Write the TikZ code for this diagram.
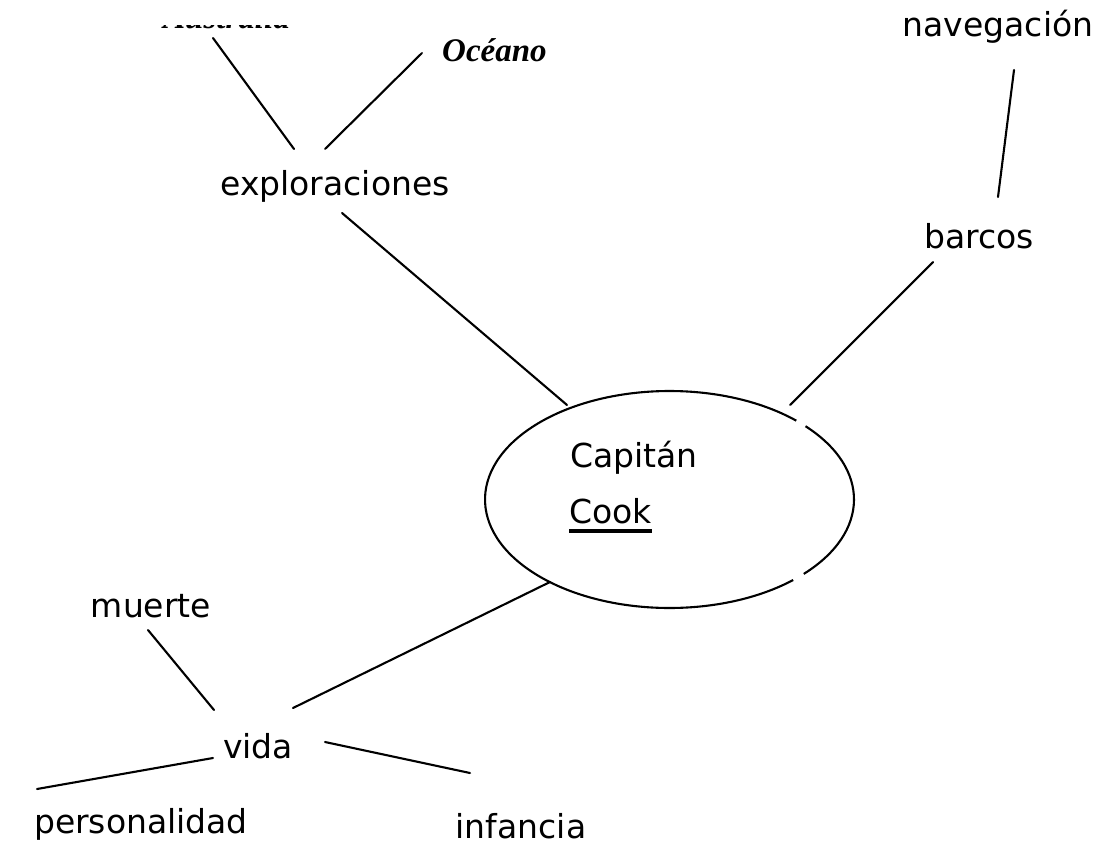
\documentclass[tikz,border=0pt]{standalone}
\usepackage{fontspec}
\setmainfont{DejaVu Sans}
\newfontfamily\tnrfont{Liberation Serif}
\usetikzlibrary{shapes.geometric}
\begin{document}
\begin{tikzpicture}[x=1pt,y=-1pt,
  lbl/.style={inner sep=0pt, anchor=base, font=\fontsize{33}{40}\selectfont},
  serlbl/.style={inner sep=0pt, anchor=base west, font=\fontsize{33}{40}\tnrfont\bfseries\itshape},
  conn/.style={line width=2.1pt, line cap=round},
  oval/.style={line width=2.1pt}]
\useasboundingbox (0,0) rectangle (1099,845);
\fill[white] (0,0) rectangle (1099,845);

% labels
\node[serlbl] (aus) at (163,29) {Australia};
\fill[white] (120,0) rectangle (320,25.5);
\node[serlbl] (oce) at (442,62) {Océano};
\node[lbl] (expl) at (335,195) {exploraciones};
\node[lbl] (nav) at (998,37) {navegación};
\node[lbl] (bar) at (979,248) {barcos};
\node[lbl] (mue) at (151,617) {muerte};
\node[lbl] (vida) at (258,758) {vida};
\node[lbl] (pers) at (141,833) {personalidad};
\node[lbl] (inf) at (521,838) {infancia};

% central oval
\node[ellipse, minimum width=369pt, minimum height=217pt, inner sep=0pt] (cc) at (669.5,499.5) {};
\draw[oval] (cc.center) ++(-43.3:184.5pt and 108.5pt)
  arc[start angle=-43.3, end angle=42.5, x radius=184.5pt, y radius=108.5pt];
\draw[oval] (cc.center) ++(46.6:184.5pt and 108.5pt)
  arc[start angle=46.6, end angle=312.1, x radius=184.5pt, y radius=108.5pt];
\node[inner sep=0pt, anchor=base west, font=\fontsize{33}{40}\selectfont] (cap) at (570,467) {Capitán};
\node[inner sep=0pt, anchor=base west, font=\fontsize{33}{40}\selectfont] (cook) at (569,523) {Cook};
\draw[line width=3.3pt] ([yshift=-8pt]cook.base west) -- ([yshift=-8pt]cook.base east);

% connector end points
\coordinate (a1) at (213,38);  \coordinate (a2) at (294,149);
\coordinate (o1) at (422,53);  \coordinate (o2) at (325,149);
\coordinate (e1) at (342,213); \coordinate (e2) at (567,405);
\coordinate (n1) at (1014,70); \coordinate (n2) at (998,197);
\coordinate (b1) at (933,262); \coordinate (b2) at (790,405);
\coordinate (v1) at (550,582); \coordinate (v2) at (293,708);
\coordinate (m1) at (148,630); \coordinate (m2) at (214,710);
\coordinate (p1) at (213,758); \coordinate (p2) at (37,789);
\coordinate (i1) at (325,742); \coordinate (i2) at (470,773);

\draw[conn] (a1) -- (a2);
\draw[conn] (o1) -- (o2);
\draw[conn] (e1) -- (e2);
\draw[conn] (n1) -- (n2);
\draw[conn] (b1) -- (b2);
\draw[conn] (v1) -- (v2);
\draw[conn] (m1) -- (m2);
\draw[conn] (p1) -- (p2);
\draw[conn] (i1) -- (i2);
\end{tikzpicture}
\end{document}
